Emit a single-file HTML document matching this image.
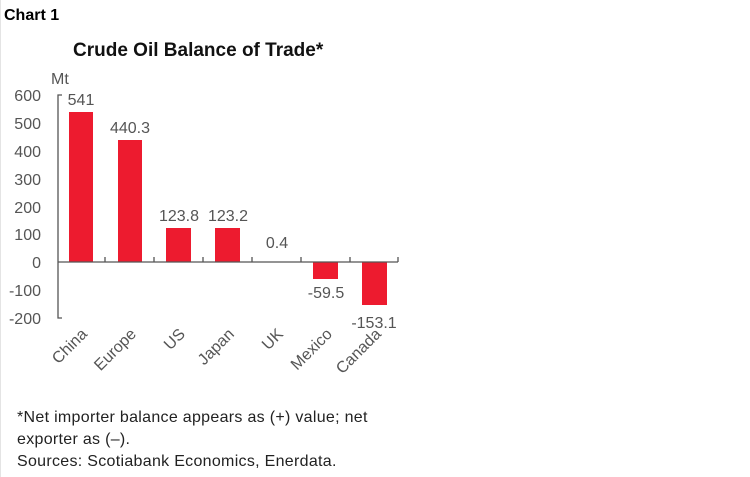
<!DOCTYPE html>
<html><head><meta charset="utf-8"><style>
html,body{margin:0;padding:0;background:#fff;}
svg{display:block;font-family:"Liberation Sans",sans-serif;}
</style></head><body>
<svg width="750" height="477" viewBox="0 0 750 477" xmlns="http://www.w3.org/2000/svg">
<line x1="0.5" y1="0" x2="0.5" y2="477" stroke="#e4e4e4"/>
<text x="4" y="20" font-size="16" font-weight="bold" fill="#000">Chart 1</text>
<text x="73" y="56" font-size="19" font-weight="bold" fill="#111">Crude Oil Balance of Trade*</text>
<g font-size="16" fill="#555" text-anchor="end">
<text x="51" y="84" text-anchor="start">Mt</text>
<text x="41" y="101">600</text>
<text x="41" y="129">500</text>
<text x="41" y="157">400</text>
<text x="41" y="185">300</text>
<text x="41" y="213">200</text>
<text x="41" y="240">100</text>
<text x="41" y="268">0</text>
<text x="41" y="296">-100</text>
<text x="41" y="324">-200</text>
</g>
<g fill="#ED1B2F">
<rect x="69" y="112" width="24" height="150"/>
<rect x="118" y="140" width="24" height="122"/>
<rect x="166" y="228" width="25" height="34"/>
<rect x="215" y="228" width="25" height="34"/>
<rect x="313" y="262" width="25" height="17"/>
<rect x="362" y="262" width="25" height="43"/>
</g>
<g stroke="#555" stroke-width="1.3" fill="none">
<path d="M62 95 H58 V318 H62"/>
<path d="M58 262 H398"/>
<path d="M105 262 V257 M154 262 V257 M203 262 V257 M252 262 V257 M301 262 V257 M350 262 V257 M398 262 V257"/>
</g>
<g font-size="16" fill="#555" text-anchor="middle">
<text x="81" y="105">541</text>
<text x="130" y="133">440.3</text>
<text x="179" y="221">123.8</text>
<text x="228" y="221">123.2</text>
<text x="277" y="248">0.4</text>
<text x="326" y="298">-59.5</text>
<text x="374" y="328">-153.1</text>
</g>
<g font-size="16" fill="#555" text-anchor="end">
<text transform="translate(88,335) rotate(-45)">China</text>
<text transform="translate(137,335) rotate(-45)">Europe</text>
<text transform="translate(186,335) rotate(-45)">US</text>
<text transform="translate(235,335) rotate(-45)">Japan</text>
<text transform="translate(284,335) rotate(-45)">UK</text>
<text transform="translate(333,335) rotate(-45)">Mexico</text>
<text transform="translate(382,335) rotate(-45)">Canada</text>
</g>
<g font-size="16" fill="#222" letter-spacing="0.3">
<text x="17" y="422">*Net importer balance appears as (+) value; net</text>
<text x="17" y="444">exporter as (–).</text>
<text x="17" y="466">Sources: Scotiabank Economics, Enerdata.</text>
</g>
</svg>
</body></html>
